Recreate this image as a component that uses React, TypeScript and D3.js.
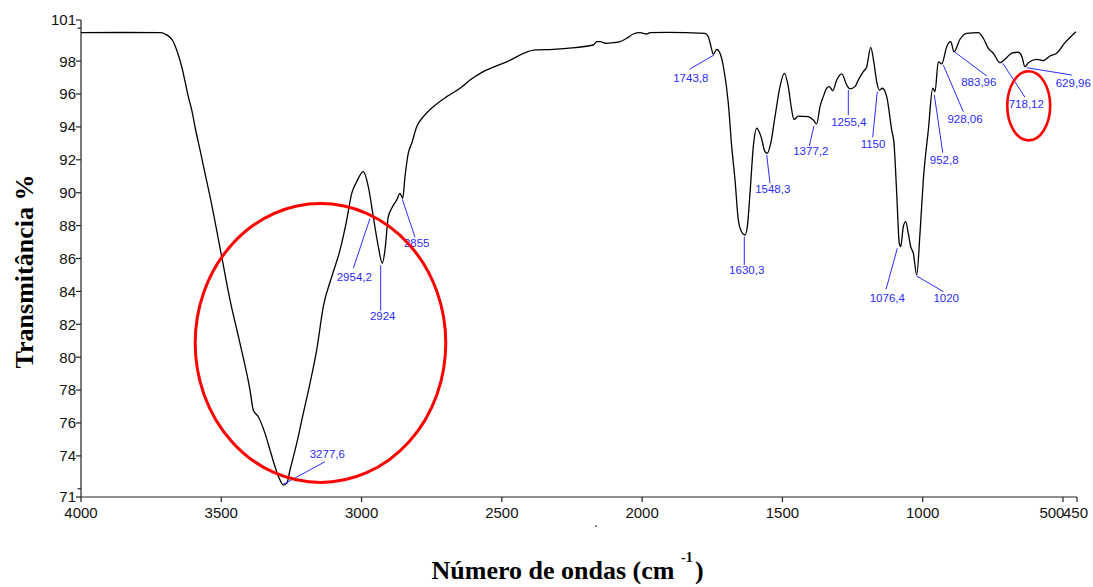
import React from 'react';
import * as d3 from 'd3';

// ---- Spectrum data (wavenumber cm-1, transmittance %) ----
const wavenumbers = [
  4000, 3850, 3718, 3700.6, 3682.8, 3671, 3659, 3641, 3629, 3617.5, 3605.4, 3593.7, 3575.8, 3558, 3540,
  3498.5, 3468.9, 3433.3, 3397.6, 3385.9, 3368, 3344.2, 3326.3, 3308.5, 3290.7, 3278.9, 3266.8, 3255.1,
  3231.2, 3207.7, 3183.8, 3159.9, 3136.4, 3106.4, 3076.8, 3052.9, 3035.1, 3017.3, 2993.8, 2976, 2958.2,
  2940.3, 2926.1, 2916.5, 2904.7, 2892.6, 2874.8, 2863, 2853.4, 2845.2, 2833.4, 2821.3, 2803.5, 2779.9,
  2744.3, 2696.5, 2649.1, 2613.5, 2566.1, 2482.7, 2381.8, 2316.6, 2268.8, 2174, 2161.9, 2150.1, 2126.3,
  2102.7, 2078.8, 2054.9, 2031.4, 2007.5, 1983.7, 1971.9, 1912.4, 1775.9, 1764.1, 1754.5, 1746.3, 1734.2,
  1722.4, 1708.2, 1692.8, 1680.7, 1668.9, 1657.2, 1648.6, 1633.3, 1625.1, 1615.5, 1603.7, 1591.6, 1576.3,
  1562, 1553.8, 1541.7, 1526.4, 1508.6, 1493.3, 1479, 1466.9, 1458.7, 1443.4, 1407.8, 1389.9, 1377.8,
  1366, 1354.2, 1342.1, 1332.8, 1320.7, 1306.4, 1288.6, 1270.8, 1259, 1241.2, 1229.5, 1211.6, 1199.5,
  1185.3, 1173.5, 1163.9, 1154.6, 1143.9, 1128.2, 1110.4, 1102.2, 1092.6, 1083.4, 1078.4, 1069.1, 1060.6,
  1051.3, 1042.7, 1033.4, 1021.3, 1009.6, 997.8, 979.9, 964.3, 956.1, 944.4, 932.2, 914.4, 900.1, 888.4,
  867, 843.1, 801.8, 783.9, 766.1, 748.3, 724.4, 706.6, 682.7, 659.2, 647.1, 635.3, 623.6, 593.6, 570.1,
  546.2, 522.4, 492.8, 453.6,
];
const transmittance = [
  99.73, 99.74, 99.73, 99.65, 99.45, 99.18, 98.68, 97.66, 96.75, 95.84, 95.03, 94.01, 92.6, 91.18, 89.76,
  86.11, 83.48, 80.84, 78.0, 76.79, 76.38, 75.37, 74.36, 73.34, 72.53, 72.23, 72.33, 73.14,
  74.76, 76.59, 78.41, 80.44, 83.07, 84.89, 86.52, 88.34, 89.96, 90.67, 91.28, 90.37, 88.54,
  86.72, 85.71, 86.52, 88.54, 89.05, 89.56, 89.96, 89.66, 90.97, 92.4, 93.0, 94.01, 94.62,
  95.23, 95.84, 96.35, 96.85, 97.36, 97.96, 98.68, 98.72, 98.78, 98.98, 99.18, 99.18, 99.08,
  99.12, 99.18, 99.39, 99.65, 99.73, 99.65, 99.73, 99.75, 99.69, 99.48, 98.88, 98.41, 98.72,
  98.48, 97.46, 95.44, 92.8, 90.77, 88.34, 87.73, 87.43, 87.93, 89.96, 92.8, 93.92, 93.41,
  92.49, 92.4, 93.0, 94.62, 96.45, 97.26, 96.45, 95.03, 94.46, 94.66, 94.62, 94.42, 94.18,
  95.23, 95.84, 96.35, 96.45, 96.2, 96.85, 97.22, 96.55, 96.31, 96.45, 96.85, 97.36, 97.66,
  98.84, 97.87, 96.75, 96.24, 96.35, 95.84, 93.81, 93.0, 89.96, 86.92, 86.72, 87.93, 88.24,
  87.53, 86.72, 86.32, 85.0, 87.53, 90.77, 93.81, 96.35, 96.14, 97.96, 97.83, 98.88, 99.18, 98.57,
  99.33, 99.69, 99.73, 99.39, 98.78, 98.48, 97.9, 98.11, 98.48, 98.54, 98.31, 97.66, 97.9, 98.11, 98.03,
  98.31, 98.48, 99.12, 99.79,
];

// ---- Axis ticks ----
const xTickValues = [4000, 3500, 3000, 2500, 2000, 1500, 1000, 500, 450];
const xTickLabels = ['4000', '3500', '3000', '2500', '2000', '1500', '1000', '500', '450'];
const yTickValues = [100.5, 98, 96, 94, 92, 90, 88, 86, 84, 82, 80, 78, 76, 74, 71.5];
const yTickLabels = ['101', '98', '96', '94', '92', '90', '88', '86', '84', '82', '80', '78', '76', '74', '71'];
const yMinorTickValues = [100, 72];

// ---- Peak annotations ----
const peakLabels = ['3277,6', '2954,2', '2924', '2855', '1743,8', '1630,3', '1548,3', '1377,2', '1255,4',
  '1150', '1076,4', '1020', '952,8', '928,06', '883,96', '718,12', '629,96'];
const peakWavenumbers = [3278.9, 2969.9, 2931.8, 2854.8, 1743.8, 1635.8, 1555.9, 1387.4, 1265.1,
  1161.8, 1090.4, 1021.4, 958.5, 926.5, 884.8, 714.8, 629.2];
const peakTransmittance = [72.27, 88.44, 85.6, 89.6, 98.37, 87.33, 92.29, 94.06, 96.24,
  96.14, 86.62, 84.94, 95.94, 97.76, 98.54, 97.87, 97.6];
// leader-line end and label-centre offsets (px) from each peak point
const peakLineOffsets = [[41.7, -22.6], [-16.7, 50], [0, 45.7], [12.7, 38], [-24.7, 14.3], [0, 28.3],
  [3.3, 28.3], [-4.7, 20], [0, 25], [-4.6, 45.6], [-11.3, 41], [26.6, 15.7], [8.4, 57.7], [20, 46.7],
  [31.7, 23.7], [22.3, 34], [45, 7.3]];
const peakTextOffsets = [[44, -30], [-15.7, 58.7], [2, 50.7], [14.4, 43.4], [-23.2, 22.8], [2.4, 33.6],
  [6, 33.8], [-3.2, 25.3], [0.5, 31.3], [-4.3, 52.1], [-10, 49.2], [29.5, 22], [9.9, 64.7], [21.7, 54.2],
  [23.8, 29.7], [23.6, 40.4], [46.6, 15.3]];

// ---- Highlight ellipses (centre wn, centre T, half-width wn, half-height T) ----
const highlightCenterWn = [3146.4, 622.1];
const highlightCenterT = [80.86, 95.28];
const highlightHalfWn = [446.6, 76.5];
const highlightHalfT = [8.48, 2.1];

const W = 1093;
const H = 587;
const sansFont = '"Liberation Sans", Arial, sans-serif';
const serifFont = '"Liberation Serif", "Times New Roman", serif';
const blue = '#2b2bff';

export default function App() {
  const x = d3.scaleLinear().domain([4000, 450]).range([81, 1077]);
  const y = d3.scaleLinear().domain([71.5, 100.5]).range([497, 20]);

  const points: [number, number][] = wavenumbers.map((w, i) => [w, transmittance[i]]);
  const line = d3
    .line<[number, number]>()
    .x((d) => x(d[0]))
    .y((d) => y(d[1]))
    .curve(d3.curveMonotoneX);

  const x0 = x(4000);
  const x1 = x(450);
  const yBottom = y(71.5);
  const yTop = y(100.5);

  return (
    <svg width={W} height={H} style={{ position: 'absolute', left: 0, top: 0, background: '#fff' }}>
      <rect x={0} y={0} width={W} height={H} fill="#fff" />

      {/* spectrum */}
      <path d={line(points) || ''} fill="none" stroke="#000" strokeWidth={1.3} />

      {/* peak annotations */}
      {peakLabels.map((lab, i) => {
        const px = x(peakWavenumbers[i]);
        const py = y(peakTransmittance[i]);
        const [lx, ly] = peakLineOffsets[i];
        const [tx, ty] = peakTextOffsets[i];
        return (
          <g key={lab}>
            <line x1={px} y1={py} x2={px + lx} y2={py + ly} stroke={blue} strokeWidth={1} />
            <text
              x={px + tx}
              y={py + ty}
              dy="0.36em"
              textAnchor="middle"
              fontFamily={sansFont}
              fontSize={11.5}
              fill={blue}
            >
              {lab}
            </text>
          </g>
        );
      })}

      {/* highlight ellipses */}
      {highlightCenterWn.map((cw, i) => {
        const cx = x(cw);
        const cy = y(highlightCenterT[i]);
        const rx = Math.abs(x(cw + highlightHalfWn[i]) - cx);
        const ry = Math.abs(y(highlightCenterT[i] + highlightHalfT[i]) - cy);
        return (
          <ellipse key={i} cx={cx} cy={cy} rx={rx} ry={ry} fill="none" stroke="#ff0000" strokeWidth={i === 0 ? 3 : 2.6} />
        );
      })}

      {/* axes */}
      <g stroke="#222" strokeWidth={1.2} fill="none">
        <line x1={x0} y1={yTop} x2={x0} y2={yBottom} />
        <line x1={x0} y1={yBottom} x2={x1} y2={yBottom} />
        {yTickValues.map((v) => (
          <line key={'yt' + v} x1={x0 - 5} y1={y(v)} x2={x0} y2={y(v)} />
        ))}
        {yMinorTickValues.map((v) => (
          <line key={'ym' + v} x1={x0 - 3.5} y1={y(v)} x2={x0} y2={y(v)} />
        ))}
        {xTickValues.map((v) => (
          <line key={'xt' + v} x1={x(v)} y1={yBottom} x2={x(v)} y2={yBottom + 5} />
        ))}
      </g>

      {yTickValues.map((v, i) => (
        <text
          key={'yl' + v}
          x={x0 - 5}
          y={y(v) + 5.4}
          textAnchor="end"
          fontFamily={sansFont}
          fontSize={15}
          fill="#111"
        >
          {yTickLabels[i]}
        </text>
      ))}

      {xTickValues.map((v, i) => {
        const isCrowded = v === 500;
        return (
          <text
            key={'xl' + v}
            x={isCrowded ? x(v) + 1.5 : v === 450 ? x(v) - 1.5 : x(v)}
            y={yBottom + 20.7}
            textAnchor={isCrowded ? 'end' : 'middle'}
            fontFamily={sansFont}
            fontSize={15}
            fill="#111"
          >
            {xTickLabels[i]}
          </text>
        );
      })}

      {/* stray dot under the axis */}
      <text x={596} y={527} textAnchor="middle" fontFamily={sansFont} fontSize={14} fill="#111">
        .
      </text>

      {/* axis titles */}
      <text
        transform="translate(33,271.5) rotate(-90)"
        textAnchor="middle"
        fontFamily={serifFont}
        fontWeight="bold"
        fontSize={26}
        fill="#000"
      >
        Transmitância %
      </text>

      <text x={431.5} y={579.3} fontFamily={serifFont} fontWeight="bold" fontSize={26} fill="#000">
        Número de ondas (cm
      </text>
      <text x={681} y={562} fontFamily={serifFont} fontWeight="bold" fontSize={14} fill="#000">
        -1
      </text>
      <text x={695} y={579.3} fontFamily={serifFont} fontWeight="bold" fontSize={26} fill="#000">
        )
      </text>
    </svg>
  );
}
